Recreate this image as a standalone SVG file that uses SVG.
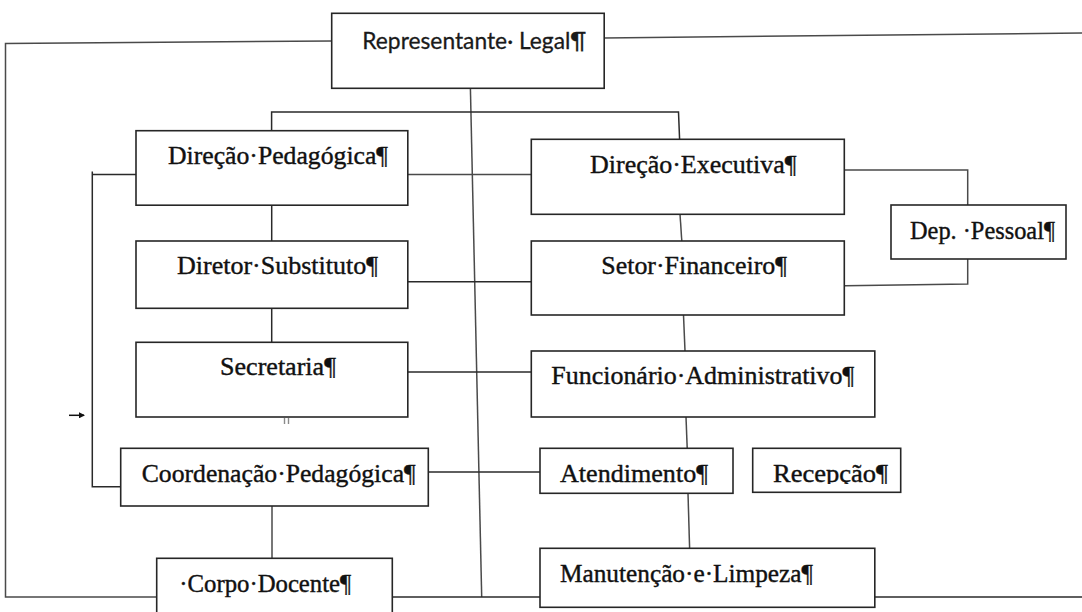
<svg xmlns="http://www.w3.org/2000/svg" width="1082" height="612" viewBox="0 0 1082 612">
<style>
.bg{fill:#ffffff}
.box{fill:#ffffff;stroke:#262626;stroke-width:1.6}
.ln{fill:none;stroke:#2a2a2a;stroke-width:1.5}
.lg{fill:none;stroke:#4a4a4a;stroke-width:1.5}
.t{font-family:"Liberation Serif","Times New Roman",serif;font-size:26px;fill:#111111;stroke:#111111;stroke-width:0.4}
.ts{font-family:Lato,"Liberation Sans",sans-serif;font-size:24px;fill:#1a1a1a;stroke:#1a1a1a;stroke-width:0.3}
</style>
<defs>
<marker id="tab" markerWidth="6" markerHeight="6" refX="5" refY="3" orient="auto" markerUnits="userSpaceOnUse">
<path d="M0,0 L6,3 L0,6 Z" fill="#111"/>
</marker>
<clipPath id="clipRec"><rect x="752" y="448" width="149" height="36"/></clipPath>
</defs>
<rect class="bg" x="0" y="0" width="1082" height="612"/>
<g id="connectors">
<polyline class="lg" points="332,41 5.5,43.5 5.5,597 157,597"/>
<line class="lg" x1="604" y1="38" x2="1082" y2="33"/>
<line class="lg" x1="470.4" y1="88" x2="481.7" y2="597"/>
<polyline class="ln" points="271.6,131 271.6,112 678.5,112 679.6,139.5"/>
<polyline class="ln" points="92.3,171.5 92.3,486.7 121,486.7"/>
<line class="ln" x1="92.3" y1="174.4" x2="136" y2="174.4"/>
<line class="lg" x1="408" y1="174.6" x2="531" y2="174.6"/>
<line class="ln" x1="271.7" y1="205" x2="271.7" y2="241"/>
<line class="ln" x1="408" y1="281.7" x2="531" y2="281.7"/>
<line class="ln" x1="271.7" y1="308" x2="271.7" y2="342"/>
<line class="ln" x1="408" y1="372" x2="531" y2="372"/>
<line class="ln" x1="428" y1="472" x2="540" y2="472"/>
<line class="lg" x1="272" y1="506" x2="272" y2="558"/>
<line class="ln" x1="392" y1="597" x2="540" y2="597"/>
<line class="ln" x1="875" y1="597" x2="1082" y2="597"/>
<line class="lg" x1="680" y1="214" x2="681.8" y2="241"/>
<line class="lg" x1="683.5" y1="315" x2="685" y2="351"/>
<line class="lg" x1="686" y1="417" x2="687.2" y2="448"/>
<line class="lg" x1="688" y1="493" x2="689.6" y2="548"/>
<polyline class="lg" points="845,170 967.7,170 967.7,205"/>
<polyline class="lg" points="967.7,259 967.7,284 845,285.8"/>
<line x1="69" y1="415.3" x2="84" y2="415.3" stroke="#111" stroke-width="1.5" marker-end="url(#tab)"/>
<line x1="284.5" y1="418" x2="284.5" y2="424" stroke="#8a8a8a" stroke-width="1.4"/>
<line x1="288.5" y1="418" x2="288.5" y2="424" stroke="#8a8a8a" stroke-width="1.4"/>
</g>
<g id="representante-legal">
<rect class="box" x="331.7" y="13.3" width="272.5" height="75"/>
<text class="ts" x="362.3" y="49" textLength="224" lengthAdjust="spacingAndGlyphs">Representante· Legal¶</text>
</g>
<g id="direcao-pedagogica">
<rect class="box" x="136" y="130.7" width="271.8" height="74.5"/>
<text class="t" x="168" y="164.3" textLength="220" lengthAdjust="spacingAndGlyphs">Direção·Pedagógica¶</text>
</g>
<g id="diretor-substituto">
<rect class="box" x="136" y="241" width="271.8" height="67.3"/>
<text class="t" x="177" y="274" textLength="201" lengthAdjust="spacingAndGlyphs">Diretor·Substituto¶</text>
</g>
<g id="secretaria">
<rect class="box" x="136" y="342.3" width="271.8" height="74.7"/>
<text class="t" x="220" y="375" textLength="116" lengthAdjust="spacingAndGlyphs">Secretaria¶</text>
</g>
<g id="coordenacao-pedagogica">
<rect class="box" x="120.7" y="448.3" width="307.6" height="57.7"/>
<text class="t" x="141.7" y="481.7" textLength="274" lengthAdjust="spacingAndGlyphs">Coordenação·Pedagógica¶</text>
</g>
<g id="corpo-docente">
<rect class="box" x="156.7" y="558.3" width="235.6" height="60"/>
<text class="t" x="179.3" y="591.7" textLength="172" lengthAdjust="spacingAndGlyphs">·Corpo·Docente¶</text>
</g>
<g id="direcao-executiva">
<rect class="box" x="531.3" y="139.3" width="313" height="75"/>
<text class="t" x="590" y="173.3" textLength="206.5" lengthAdjust="spacingAndGlyphs">Direção·Executiva¶</text>
</g>
<g id="dep-pessoal">
<rect class="box" x="891" y="205" width="175" height="54"/>
<text class="t" x="910" y="239" textLength="145" lengthAdjust="spacingAndGlyphs">Dep. ·Pessoal¶</text>
</g>
<g id="setor-financeiro">
<rect class="box" x="531.3" y="241" width="313" height="74"/>
<text class="t" x="601.3" y="274" textLength="185.7" lengthAdjust="spacingAndGlyphs">Setor·Financeiro¶</text>
</g>
<g id="funcionario-administrativo">
<rect class="box" x="531.3" y="351" width="343.5" height="66"/>
<text class="t" x="551.3" y="384" textLength="303" lengthAdjust="spacingAndGlyphs">Funcionário·Administrativo¶</text>
</g>
<g id="atendimento">
<rect class="box" x="540" y="448.3" width="193" height="45"/>
<text class="t" x="560" y="481.7" textLength="148" lengthAdjust="spacingAndGlyphs">Atendimento¶</text>
</g>
<g id="recepcao">
<rect class="box" x="752.7" y="448.3" width="148" height="44"/>
<text class="t" x="773" y="481.7" textLength="115" lengthAdjust="spacingAndGlyphs" clip-path="url(#clipRec)">Recepção¶</text>
</g>
<g id="manutencao-limpeza">
<rect class="box" x="540" y="548.3" width="334.8" height="59"/>
<text class="t" x="560" y="581.7" textLength="253" lengthAdjust="spacingAndGlyphs">Manutenção·e·Limpeza¶</text>
</g>
</svg>
